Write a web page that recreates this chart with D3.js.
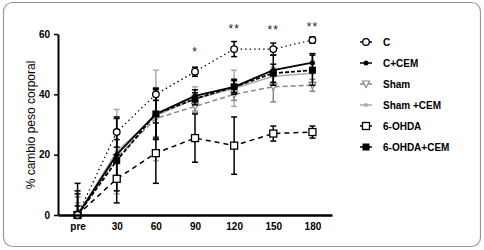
<!DOCTYPE html>
<html><head><meta charset="utf-8">
<script src="https://cdn.jsdelivr.net/npm/d3@7"></script>
<style>body{margin:0;background:#fff}svg{display:block;font-family:"Liberation Sans",Arial,sans-serif}</style>
</head><body>
<svg id="c" width="484" height="250"></svg>
<script>
const categories = ["pre","30","60","90","120","150","180"];
const yTicks = [0,20,40,60];
const seriesNames = ["C","C+CEM","Sham","Sham +CEM","6-OHDA","6-OHDA+CEM"];
const valC        = [0, 27.5, 40, 47.5, 55, 55, 58];
const errC        = [8, 5, 2, 1.5, 2.5, 2, 1];
const valCCEM     = [0, 20, 33.5, 39.5, 42.5, 48, 50.5];
const errCCEM     = [10.5, 12, 8.5, 2, 2.5, 5, 3];
const valSham     = [0, 19, 32, 36, 40, 42.5, 43];
const errSham     = [6, 8, 6, 2, 2, 5, 2];
const valShamCEM  = [0, 21, 33, 38.5, 42, 46, 47];
const errShamCEM  = [4, 14, 15, 4, 6, 3, 3];
const val6OHDA    = [0, 12, 20.5, 25.5, 23, 27, 27.5];
const err6OHDA    = [3, 8, 10, 8, 9.5, 2.5, 2];
const val6OHDACEM = [0, 18, 33.5, 38.5, 42.5, 47, 48];
const err6OHDACEM = [7, 7, 8, 2, 2, 3, 5];
const sigLabels   = ["", "", "", "*", "**", "**", "**"];
const sigLevels   = [0, 0, 0, 55.5, 63, 62.5, 63.5];

const styles = [
  {color:"#000", dash:"1.5,3", marker:"circleOpen", width:1.2},
  {color:"#000", dash:null, marker:"circleFilled", width:1.8},
  {color:"#888", dash:"5,3", marker:"triangleDown", width:1.5},
  {color:"#aaa", dash:null, marker:"smallGray", width:1.6},
  {color:"#000", dash:"5,4", marker:"squareOpen", width:1.5},
  {color:"#000", dash:"4,2", marker:"squareFilled", width:1.8}
];
const series = [
  {name:seriesNames[0], v:valC, e:errC},
  {name:seriesNames[1], v:valCCEM, e:errCCEM},
  {name:seriesNames[2], v:valSham, e:errSham},
  {name:seriesNames[3], v:valShamCEM, e:errShamCEM},
  {name:seriesNames[4], v:val6OHDA, e:err6OHDA},
  {name:seriesNames[5], v:val6OHDACEM, e:err6OHDACEM}
];

const svg = d3.select("#c");
svg.append("rect").attr("x",3.5).attr("y",2.5).attr("width",477).attr("height",244)
  .attr("rx",9).attr("fill","#fff").attr("stroke","#999").attr("stroke-width",1.2);

const x = d3.scalePoint().domain(categories).range([58,332]).padding(0.5);
const y = d3.scaleLinear().domain([0,60]).range([215,34]);

const drawOrder = [3,2,5,1,4,0];
drawOrder.forEach(i => {
  const s = series[i], st = styles[i];
  const g = svg.append("g");
  s.v.forEach((v,j) => {
    const cx = x(categories[j]);
    const e = s.e[j];
    const lo = Math.max(0, v-e), hi = v+e;
    g.append("line").attr("x1",cx).attr("x2",cx).attr("y1",y(lo)).attr("y2",y(hi))
      .attr("stroke",st.color).attr("stroke-width",1.5);
    const caps = v-e >= 0 ? [v-e, hi] : [hi];
    caps.forEach(t => g.append("line").attr("x1",cx-3).attr("x2",cx+3).attr("y1",y(t)).attr("y2",y(t))
      .attr("stroke",st.color).attr("stroke-width",1.5));
  });
  const line = d3.line().x((d,j)=>x(categories[j])).y(d=>y(d));
  g.append("path").attr("d",line(s.v)).attr("fill","none").attr("stroke",st.color)
    .attr("stroke-width",st.width).attr("stroke-dasharray",st.dash);
  s.v.forEach((v,j) => drawMarker(g, st, x(categories[j]), y(v)));
});

function drawMarker(g, st, cx, cy){
  if(st.marker==="circleOpen") g.append("circle").attr("cx",cx).attr("cy",cy).attr("r",3.3).attr("fill","#fff").attr("stroke","#000").attr("stroke-width",1.3);
  else if(st.marker==="circleFilled") g.append("circle").attr("cx",cx).attr("cy",cy).attr("r",2.5).attr("fill","#000");
  else if(st.marker==="triangleDown") g.append("path").attr("d",`M${cx-3.5},${cy-3}L${cx+3.5},${cy-3}L${cx},${cy+3.5}Z`).attr("fill","#fff").attr("stroke","#888").attr("stroke-width",1.2);
  else if(st.marker==="smallGray") g.append("circle").attr("cx",cx).attr("cy",cy).attr("r",2).attr("fill","#aaa");
  else if(st.marker==="squareOpen") g.append("rect").attr("x",cx-3.5).attr("y",cy-3.5).attr("width",7).attr("height",7).attr("fill","#fff").attr("stroke","#000").attr("stroke-width",1.3);
  else if(st.marker==="squareFilled") g.append("rect").attr("x",cx-3.5).attr("y",cy-3.5).attr("width",7).attr("height",7).attr("fill","#000");
}

const yAxis = d3.axisLeft(y).tickValues(yTicks).tickSize(4).tickSizeOuter(0);
const gy = svg.append("g").attr("transform","translate(58,0)").call(yAxis);
gy.select(".domain").attr("stroke-width",2);
gy.selectAll(".tick line").attr("stroke-width",1.5);
gy.selectAll("text").attr("font-size",10).attr("font-weight","bold").attr("fill","#000").attr("dx",-1);

const xAxis = d3.axisBottom(x).tickSize(0).tickSizeOuter(0);
const gx = svg.append("g").attr("transform","translate(0,215)").call(xAxis);
gx.select(".domain").attr("stroke-width",2.5);
gx.selectAll("text").attr("font-size",10).attr("font-weight","bold").attr("fill","#000").attr("dy","1.2em");

svg.append("text").attr("transform","translate(35,125) rotate(-90)").attr("text-anchor","middle")
  .attr("font-size",12).attr("fill","#000").text("% cambio peso corporal");

categories.forEach((c,j)=>{
  if(!sigLabels[j]) return;
  svg.append("text").attr("x",x(c)).attr("y",y(sigLevels[j])+8).attr("text-anchor","middle")
    .attr("font-size",12).attr("fill","#222").attr("letter-spacing","1px").text(sigLabels[j]);
});

series.forEach((s,i)=>{
  const st = styles[i];
  const ly = 42 + i*21, lx = 366;
  const g = svg.append("g");
  g.append("line").attr("x1",lx-6).attr("x2",lx+6).attr("y1",ly).attr("y2",ly).attr("stroke",st.color).attr("stroke-width",1.5);
  drawMarker(g, st, lx, ly);
  g.append("text").attr("x",383).attr("y",ly+3.5).attr("font-size",10).attr("font-weight","bold").attr("fill","#000").text(s.name);
});
</script>
</body></html>
